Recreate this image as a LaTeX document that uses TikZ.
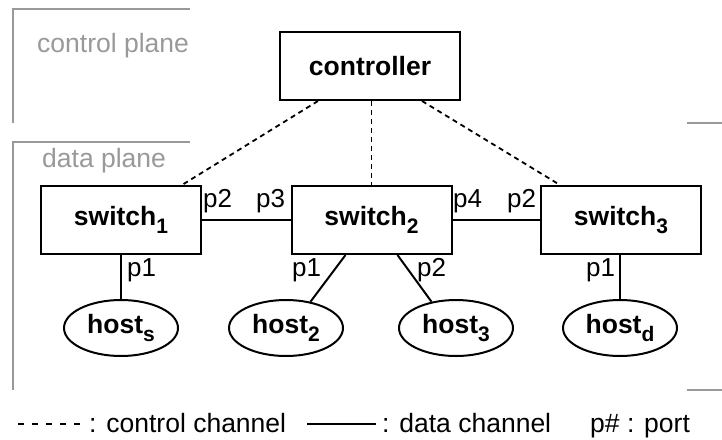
\documentclass[tikz,border=0pt]{standalone}
\usepackage{fontspec}
\setmainfont{Liberation Sans}
\usetikzlibrary{calc,shapes.geometric}
\definecolor{planegray}{gray}{0.6}
% lowered bold index for node names
\newcommand\lowidx[1]{\raisebox{-0.28em}{\fontsize{21}{21}\selectfont #1}}
\begin{document}
\begin{tikzpicture}[x=1pt,y=-1pt,
  box/.style={draw,line width=2pt,minimum width=160pt,minimum height=68pt,
    inner sep=0pt,font=\fontsize{26.5}{30}\selectfont\bfseries},
  hostnode/.style={draw,ellipse,line width=2pt,minimum width=114pt,
    minimum height=56pt,inner sep=0pt,font=\fontsize{26.5}{30}\selectfont\bfseries},
  link/.style={line width=2pt},
  ctrllink/.style={line width=1.8pt,dash pattern=on 5pt off 4pt},
  port/.style={anchor=base west,inner sep=0pt,font=\fontsize{26}{30}\selectfont},
  plane/.style={draw=planegray,line width=2pt},
  planelabel/.style={anchor=base west,inner sep=0pt,text=planegray,
    font=\fontsize{26.5}{30}\selectfont},
  legendtext/.style={anchor=base west,inner sep=0pt,font=\fontsize{26.5}{30}\selectfont},
]
\useasboundingbox (0,0) rectangle (722,439);

% plane brackets
\draw[plane] (13,123) -- (13,9) -- (190,9);
\draw[plane] (190,142) -- (13,142) -- (13,390);
\draw[plane] (687,123) -- (722,123);
\draw[plane] (687,390) -- (722,390);
\node[planelabel] (cplane) at (37,52) {control plane};
\node[planelabel] (dplane) at (42,167) {data plane};

% controller and switches
\node[box,minimum width=180pt] (ctrl) at (370,66) {controller};
\node[box] (sw1) at (121,220) {switch\lowidx{1}};
\node[box] (sw2) at (371.5,220) {switch\lowidx{2}};
\node[box] (sw3) at (621,220) {switch\lowidx{3}};

% hosts
\node[hostnode] (hs) at (121,328) {host\lowidx{s}};
\node[hostnode] (h2) at (286,328) {host\lowidx{2}};
\node[hostnode] (h3) at (456,328) {host\lowidx{3}};
\node[hostnode] (hd) at (620,328) {host\lowidx{d}};

% control channels
\draw[ctrllink] ([xshift=-52pt]ctrl.south) -- ([xshift=61pt]sw1.north);
\draw[ctrllink] (sw2.north |- ctrl.south) -- (sw2.north);
\draw[ctrllink] ([xshift=52pt]ctrl.south) -- ([xshift=-61pt]sw3.north);

% data channels
\draw[link] (sw1.east) -- (sw2.west);
\draw[link] (sw2.east) -- (sw3.west);
\draw[link] (sw1.south) -- (hs.north);
\draw[link] ([xshift=-26pt]sw2.south) -- (h2.47);
\draw[link] ([xshift=26pt]sw2.south) -- (h3.133);
\draw[link] (hd.north |- sw3.south) -- (hd.north);

% ports
\node[port] (p12) at (203,207) {p2};
\node[port] (p23) at (256,207) {p3};
\node[port] (p24) at (453,207) {p4};
\node[port] (p32) at (507,207) {p2};
\node[port] (p11) at (127,276) {p1};
\node[port] (p21) at (292,276) {p1};
\node[port] (p22) at (417,276) {p2};
\node[port] (p31) at (586,276) {p1};

% legend
\coordinate (dashA) at (18,424);
\coordinate (dashB) at (84,424);
\draw[line width=1.4pt,dash pattern=on 6pt off 8pt] (dashA) -- (dashB);
\node[legendtext] (lgctrl) at (89,432) {: control channel};
\coordinate (solidA) at (307,424);
\coordinate (solidB) at (376,424);
\draw[line width=1.6pt] (solidA) -- (solidB);
\node[legendtext] (lgdata) at (382,432) {: data channel};
\node[legendtext] (lgport) at (590,432) {p\# : port};
\end{tikzpicture}
\end{document}
